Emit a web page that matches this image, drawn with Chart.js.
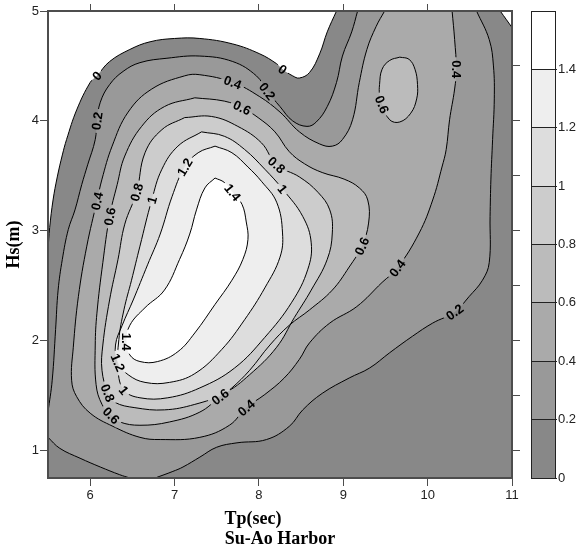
<!DOCTYPE html>
<html>
<head>
<meta charset="utf-8">
<script src="https://cdn.jsdelivr.net/npm/chart.js@4.4.1/dist/chart.umd.min.js"></script>
<style>
  html, body { margin: 0; padding: 0; background: #fff; }
  #contour { position: absolute; left: 0; top: 0; }
</style>
</head>
<body>
<canvas id="contour" width="576" height="552"></canvas>
<script>
// axis ticks
const tpTicks = [6, 7, 8, 9, 10, 11];
const tpTopTicks = [6, 7, 8, 9, 10];
const hsTicks = [1, 2, 3, 4, 5];
const hsRightTicks = [1, 1.5, 2, 2.5, 3, 3.5, 4, 4.5];

// contour levels + colour bar
const levels = [0, 0.2, 0.4, 0.6, 0.8, 1, 1.2, 1.4];
const levelMax = 1.6;
const bandColors = ['#888888', '#999999', '#aaaaaa', '#bbbbbb', '#cccccc', '#dddddd', '#eeeeee', '#ffffff'];
const belowColor = '#ffffff';

// contour lines, [Tp, Hs]
const line0a = [[5.5, 2.83], [5.52, 3.03], [5.56, 3.28], [5.61, 3.49], [5.67, 3.69], [5.72, 3.83], [5.84, 4.10], [6.0, 4.35], [6.08, 4.41], [6.23, 4.54], [6.47, 4.65], [6.71, 4.72], [7.0, 4.75], [7.30, 4.75], [7.69, 4.70], [8.01, 4.61], [8.21, 4.52], [8.28, 4.47], [8.40, 4.41], [8.48, 4.39], [8.60, 4.44], [8.72, 4.61], [8.81, 4.81], [8.92, 5.0]];
const line0b = [[10.86, 5.0], [11.0, 4.85]];
const line02a = [[9.17, 5.0], [9.10, 4.81], [8.99, 4.59], [8.92, 4.35], [8.81, 4.13], [8.68, 3.99], [8.57, 3.95], [8.40, 4.0], [8.25, 4.13], [8.10, 4.27], [7.97, 4.41], [7.69, 4.54], [7.30, 4.59], [6.91, 4.57], [6.59, 4.53], [6.39, 4.45], [6.23, 4.33], [6.12, 4.17], [6.08, 4.0], [6.06, 3.83], [5.97, 3.60], [5.90, 3.42], [5.82, 3.19], [5.74, 3.01], [5.67, 2.74], [5.62, 2.46], [5.59, 2.10], [5.55, 1.64], [5.5, 1.35]];
const line02b = [[5.5, 1.12], [5.64, 1.02], [5.88, 0.93], [6.12, 0.85], [6.35, 0.78], [6.47, 0.75]];
const line02c = [[6.77, 0.75], [6.98, 0.81], [7.10, 0.85], [7.30, 0.94], [7.50, 1.03], [7.74, 1.07], [8.09, 1.10], [8.36, 1.22], [8.52, 1.37], [8.75, 1.52], [9.07, 1.66], [9.31, 1.75], [9.55, 1.89], [9.82, 2.04], [10.06, 2.16], [10.32, 2.26], [10.49, 2.40], [10.65, 2.55], [10.73, 2.71], [10.74, 3.13], [10.75, 3.47], [10.77, 3.83], [10.79, 4.20], [10.78, 4.50], [10.73, 4.74], [10.58, 5.0]];
const line04 = [[9.49, 5.0], [9.39, 4.86], [9.28, 4.65], [9.19, 4.35], [9.11, 4.01], [8.99, 3.83], [8.87, 3.77], [8.72, 3.79], [8.48, 3.90], [8.25, 4.08], [8.01, 4.22], [7.69, 4.35], [7.30, 4.42], [7.12, 4.41], [6.73, 4.29], [6.45, 4.08], [6.26, 3.77], [6.14, 3.47], [6.08, 3.27], [5.96, 2.86], [5.86, 2.40], [5.80, 1.94], [5.78, 1.64], [5.84, 1.49], [6.0, 1.34], [6.27, 1.22], [6.59, 1.12], [6.83, 1.10], [7.30, 1.12], [7.65, 1.23], [7.85, 1.39], [8.07, 1.51], [8.30, 1.66], [8.48, 1.83], [8.60, 1.98], [8.84, 2.16], [9.16, 2.31], [9.46, 2.53], [9.64, 2.66], [9.90, 2.98], [10.06, 3.28], [10.17, 3.58], [10.22, 3.74], [10.26, 4.01], [10.32, 4.29], [10.34, 4.47], [10.32, 4.74], [10.29, 5.0]];
const line06 = [[7.24, 4.21], [7.59, 4.18], [7.80, 4.12], [7.99, 4.03], [8.19, 3.90], [8.36, 3.72], [8.54, 3.61], [8.75, 3.53], [9.01, 3.47], [9.19, 3.39], [9.29, 3.28], [9.30, 3.07], [9.22, 2.86], [9.07, 2.67], [8.87, 2.46], [8.60, 2.28], [8.36, 2.14], [8.13, 1.96], [7.89, 1.73], [7.68, 1.57], [7.54, 1.49], [7.30, 1.35], [6.94, 1.26], [6.59, 1.23], [6.35, 1.26], [6.25, 1.32], [6.14, 1.42], [6.07, 1.60], [6.06, 1.96], [6.08, 2.25], [6.15, 2.71], [6.23, 3.13], [6.32, 3.42], [6.41, 3.68], [6.61, 3.95], [6.88, 4.13]];
const line06b = [[9.67, 4.58], [9.78, 4.56], [9.85, 4.47], [9.88, 4.33], [9.87, 4.20], [9.80, 4.07], [9.67, 3.99], [9.55, 4.01], [9.46, 4.15], [9.43, 4.24], [9.43, 4.33], [9.46, 4.47], [9.55, 4.55]];
const line08 = [[7.12, 4.03], [7.44, 4.04], [7.75, 3.95], [8.03, 3.80], [8.21, 3.60], [8.48, 3.49], [8.70, 3.35], [8.84, 3.19], [8.87, 2.98], [8.81, 2.74], [8.62, 2.46], [8.42, 2.21], [8.21, 1.94], [7.89, 1.69], [7.59, 1.52], [7.24, 1.42], [6.88, 1.37], [6.53, 1.39], [6.29, 1.44], [6.21, 1.525], [6.14, 1.73], [6.15, 1.96], [6.23, 2.37], [6.33, 2.74], [6.41, 3.06], [6.55, 3.35], [6.65, 3.71], [6.85, 3.92]];
const line10 = [[7.32, 3.90], [7.59, 3.86], [7.83, 3.74], [8.07, 3.56], [8.28, 3.38], [8.52, 3.13], [8.62, 2.89], [8.58, 2.65], [8.39, 2.35], [8.07, 2.03], [7.71, 1.75], [7.30, 1.57], [6.92, 1.48], [6.59, 1.48], [6.40, 1.55], [6.33, 1.73], [6.34, 2.01], [6.40, 2.28], [6.49, 2.55], [6.59, 2.86], [6.73, 3.28], [6.85, 3.56], [7.04, 3.77]];
const line12 = [[7.48, 3.77], [7.68, 3.71], [7.87, 3.58], [8.03, 3.45], [8.21, 3.26], [8.28, 2.98], [8.25, 2.76], [8.07, 2.48], [7.83, 2.19], [7.56, 1.92], [7.24, 1.70], [6.94, 1.62], [6.65, 1.62], [6.45, 1.69], [6.33, 1.80], [6.30, 1.96], [6.38, 2.14], [6.51, 2.37], [6.68, 2.69], [6.83, 2.97], [6.97, 3.31], [7.12, 3.58], [7.28, 3.71]];
const line14 = [[7.48, 3.48], [7.59, 3.44], [7.69, 3.35], [7.80, 3.24], [7.85, 3.08], [7.87, 2.92], [7.81, 2.74], [7.68, 2.55], [7.48, 2.33], [7.24, 2.07], [7.04, 1.90], [6.80, 1.81], [6.59, 1.81], [6.47, 1.87], [6.43, 1.99], [6.47, 2.14], [6.65, 2.30], [6.88, 2.46], [7.06, 2.74], [7.18, 2.97], [7.26, 3.19], [7.36, 3.39]];

// [text, line, Tp, Hs]
const contourLabels = [
  ['0', 'line0a', 6.08, 4.41], ['0', 'line0a', 8.28, 4.47],
  ['0.2', 'line02a', 6.08, 4.0], ['0.2', 'line02a', 8.10, 4.27], ['0.2', 'line02c', 10.32, 2.26],
  ['0.4', 'line04', 7.69, 4.35], ['0.4', 'line04', 6.08, 3.27], ['0.4', 'line04', 7.85, 1.39],
  ['0.4', 'line04', 9.64, 2.66], ['0.4', 'line04', 10.34, 4.47],
  ['0.6', 'line06', 7.80, 4.12], ['0.6', 'line06', 6.23, 3.13], ['0.6', 'line06', 9.22, 2.86],
  ['0.6', 'line06', 7.54, 1.49], ['0.6', 'line06', 6.25, 1.32], ['0.6', 'line06b', 9.46, 4.15],
  ['0.8', 'line08', 6.55, 3.35], ['0.8', 'line08', 8.21, 3.60], ['0.8', 'line08', 6.21, 1.525],
  ['1', 'line10', 6.73, 3.28], ['1', 'line10', 8.28, 3.38], ['1', 'line10', 6.40, 1.55],
  ['1.2', 'line12', 7.12, 3.58], ['1.2', 'line12', 6.33, 1.80],
  ['1.4', 'line14', 7.69, 3.35], ['1.4', 'line14', 6.43, 1.99]
];

// name, points, closed loop?
const pieces = [
  ['line0a', line0a, false], ['line0b', line0b, false],
  ['line02a', line02a, false], ['line02b', line02b, false], ['line02c', line02c, false],
  ['line04', line04, false], ['line06', line06, true], ['line06b', line06b, true],
  ['line08', line08, true], ['line10', line10, true], ['line12', line12, true], ['line14', line14, true]
];

// filled areas, painted in order: whole frame at the lowest band, the
// blank areas under 0, then each level on top
const regions = [
  { color: bandColors[0], parts: [[5.5, 0.75], [11, 0.75], [11, 5], [5.5, 5]] },
  { color: belowColor, parts: ['line0a', [5.5, 5]] },
  { color: belowColor, parts: ['line0b', [11, 5]] },
  { color: bandColors[1], parts: ['line02a', 'line02b', 'line02c'] },
  { color: bandColors[2], parts: ['line04'] },
  { color: bandColors[3], parts: ['line06'] },
  { color: bandColors[3], parts: ['line06b'] },
  { color: bandColors[4], parts: ['line08'] },
  { color: bandColors[5], parts: ['line10'] },
  { color: bandColors[6], parts: ['line12'] },
  { color: bandColors[7], parts: ['line14'] }
];

const pieceIndex = {};
const datasets = pieces.map(([name, pts, loop], i) => {
  pieceIndex[name] = i;
  const data = pts.map(([x, y]) => ({ x, y }));
  if (loop) data.push({ x: pts[0][0], y: pts[0][1] });
  return {
    label: name,
    data: data,
    showLine: true,
    fill: false,
    borderColor: '#000',
    borderWidth: 1,
    pointRadius: 0,
    tension: 0.4
  };
});

const labelFont = 'bold 13px "Liberation Sans", Arial, sans-serif';
const barWidth = 24;

function tracePiece(chart, ctx, name, first) {
  const meta = chart.getDatasetMeta(pieceIndex[name]);
  meta.dataset.updateControlPoints(chart.chartArea, 'x');
  const pts = meta.data;
  pts.forEach((p, i) => {
    if (i === 0) {
      if (first) ctx.moveTo(p.x, p.y);
      else ctx.lineTo(p.x, p.y);
      return;
    }
    const q = pts[i - 1];
    ctx.bezierCurveTo(q.cp2x, q.cp2y, p.cp1x, p.cp1y, p.x, p.y);
  });
}

function placeLabels(chart) {
  const ctx = chart.ctx;
  ctx.font = labelFont;
  return contourLabels.map(([text, name, tx, ty]) => {
    const pts = chart.getDatasetMeta(pieceIndex[name]).data;
    const px = chart.scales.x.getPixelForValue(tx);
    const py = chart.scales.y.getPixelForValue(ty);
    let best = 0, bestD = Infinity;
    pts.forEach((p, i) => {
      const d = (p.x - px) ** 2 + (p.y - py) ** 2;
      if (d < bestD) { bestD = d; best = i; }
    });
    const a = pts[Math.max(best - 1, 0)];
    const b = pts[Math.min(best + 1, pts.length - 1)];
    let ang = Math.atan2(b.y - a.y, b.x - a.x);
    if (ang > Math.PI / 2 + 1e-6) ang -= Math.PI;
    if (ang <= -Math.PI / 2 + 1e-6) ang += Math.PI;
    return { text, x: pts[best].x, y: pts[best].y, ang, w: ctx.measureText(text).width + 6, h: 11 };
  });
}

function paintRegions(chart) {
  const { ctx, chartArea: area, scales } = chart;
  ctx.save();
  ctx.beginPath();
  ctx.rect(area.left, area.top, area.width, area.height);
  ctx.clip();
  regions.forEach((r) => {
    ctx.beginPath();
    r.parts.forEach((part, k) => {
      if (typeof part === 'string') {
        tracePiece(chart, ctx, part, k === 0);
      } else {
        const px = scales.x.getPixelForValue(part[0]);
        const py = scales.y.getPixelForValue(part[1]);
        if (k === 0) ctx.moveTo(px, py);
        else ctx.lineTo(px, py);
      }
    });
    ctx.closePath();
    ctx.fillStyle = r.color;
    ctx.fill();
  });
  ctx.restore();
}

const contourPlugin = {
  id: 'contourPlugin',
  beforeDatasetsDraw(chart) {
    const ctx = chart.ctx;
    paintRegions(chart);

    // colour bar bands
    const yc = chart.scales.yc;
    levels.forEach((lv, i) => {
      const hi = i + 1 < levels.length ? levels[i + 1] : levelMax;
      const top = yc.getPixelForValue(hi);
      const bottom = yc.getPixelForValue(lv);
      ctx.fillStyle = bandColors[i];
      ctx.fillRect(yc.left, top, barWidth, bottom - top);
    });

    // break the contour lines where the labels go
    chart.$labels = placeLabels(chart);
    ctx.save();
    ctx.beginPath();
    ctx.rect(0, 0, chart.width, chart.height);
    chart.$labels.forEach((l) => {
      const c = Math.cos(l.ang), s = Math.sin(l.ang);
      const hw = l.w / 2, hh = l.h / 2;
      const corners = [[-hw, -hh], [hw, -hh], [hw, hh], [-hw, hh]]
        .map(([u, v]) => [l.x + u * c - v * s, l.y + u * s + v * c]);
      ctx.moveTo(corners[0][0], corners[0][1]);
      corners.slice(1).forEach((p) => ctx.lineTo(p[0], p[1]));
      ctx.closePath();
    });
    ctx.clip('evenodd');
  },
  afterDatasetsDraw(chart) {
    const ctx = chart.ctx;
    ctx.restore();
    ctx.save();
    ctx.font = labelFont;
    ctx.fillStyle = '#000';
    ctx.textAlign = 'center';
    ctx.textBaseline = 'middle';
    chart.$labels.forEach((l) => {
      ctx.save();
      ctx.translate(l.x, l.y);
      ctx.rotate(l.ang);
      ctx.fillText(l.text, 0, 1);
      ctx.restore();
    });
    ctx.restore();
  },
  afterDraw(chart) {
    const ctx = chart.ctx;
    const yc = chart.scales.yc;
    const top = yc.getPixelForValue(levelMax);
    const bottom = yc.getPixelForValue(levels[0]);
    ctx.save();
    ctx.strokeStyle = '#222';
    ctx.lineWidth = 1;
    ctx.strokeRect(Math.round(yc.left) + 0.5, Math.round(top) + 0.5, barWidth, Math.round(bottom - top));
    ctx.restore();
  }
};

const frameColor = '#4d4d4d';
const tickFont = { family: '"Liberation Sans", Arial, sans-serif', size: 13 };
const titleFont = { family: '"Liberation Serif", "Times New Roman", serif', size: 18, weight: 'bold', lineHeight: '20px' };
const fmt = (v) => String(Number(v.toFixed(2)));
const setTicks = (arr) => (axis) => { axis.ticks = arr.map((v) => ({ value: v })); };

new Chart(document.getElementById('contour'), {
  type: 'scatter',
  data: { datasets: datasets },
  options: {
    responsive: false,
    animation: false,
    events: [],
    layout: { padding: 0 },
    plugins: {
      legend: { display: false },
      tooltip: { enabled: false }
    },
    scales: {
      x: {
        type: 'linear', position: 'bottom', min: 5.5, max: 11,
        afterBuildTicks: setTicks(tpTicks),
        afterFit: (axis) => { axis.height = 74; },
        grid: { drawOnChartArea: false, tickLength: 8, color: frameColor, z: 1 },
        border: { display: true, color: frameColor, width: 2, z: 1 },
        ticks: { font: tickFont, color: '#222', padding: 2, maxRotation: 0, callback: fmt },
        title: {
          display: true,
          text: ['Tp(sec)            ', 'Su-Ao Harbor'],
          font: titleFont, color: '#000',
          padding: { top: 0, bottom: 3 }
        }
      },
      x2: {
        type: 'linear', position: 'top', min: 5.5, max: 11,
        afterBuildTicks: setTicks(tpTopTicks),
        afterFit: (axis) => { axis.height = 11; },
        grid: { drawOnChartArea: false, tickLength: 7, color: frameColor, z: 1 },
        border: { display: true, color: frameColor, width: 2, z: 1 },
        ticks: { display: false }
      },
      y: {
        type: 'linear', position: 'left', min: 0.75, max: 5,
        afterBuildTicks: setTicks(hsTicks),
        afterFit: (axis) => { axis.width = 48; },
        grid: { drawOnChartArea: false, tickLength: 8, color: frameColor, z: 1 },
        border: { display: true, color: frameColor, width: 2, z: 1 },
        ticks: { font: tickFont, color: '#222', padding: 1, callback: fmt },
        title: {
          display: true, text: 'Hs(m)',
          font: titleFont, color: '#000',
          padding: { top: 4, bottom: 0 }
        }
      },
      y2: {
        type: 'linear', position: 'right', min: 0.75, max: 5, weight: 1,
        afterBuildTicks: setTicks(hsRightTicks),
        afterFit: (axis) => { axis.width = 19; },
        grid: { drawOnChartArea: false, tickLength: 8, color: frameColor, z: 1 },
        border: { display: true, color: frameColor, width: 2, z: 1 },
        ticks: { display: false }
      },
      yc: {
        type: 'linear', position: 'right', min: 0, max: levelMax, weight: 2,
        afterBuildTicks: setTicks(levels),
        afterFit: (axis) => { axis.width = 45; },
        grid: { drawOnChartArea: false, tickLength: 26, color: '#222', lineWidth: 1, z: 1 },
        border: { display: true, color: '#222', width: 1, z: 1 },
        ticks: { font: tickFont, color: '#222', padding: 1, callback: fmt }
      }
    }
  },
  plugins: [contourPlugin]
});
</script>
</body>
</html>
